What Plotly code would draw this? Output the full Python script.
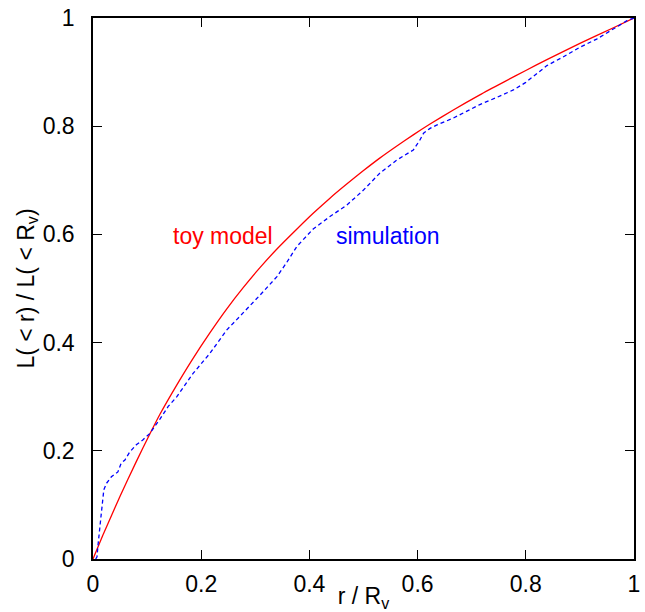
import plotly.graph_objects as go

# toy model curve
toy_x = [0.0, 0.02, 0.05, 0.08, 0.105, 0.124, 0.155, 0.185, 0.216, 0.247, 0.278, 0.309,
         0.340, 0.377, 0.407, 0.438, 0.469, 0.500, 0.530, 0.561, 0.592, 0.623, 0.666,
         0.715, 0.760, 0.800, 0.839, 0.900, 0.962, 1.0]
toy_y = [0.0, 0.048, 0.116, 0.180, 0.231, 0.268, 0.322, 0.371, 0.418, 0.462, 0.502, 0.539,
         0.573, 0.610, 0.639, 0.667, 0.693, 0.718, 0.741, 0.763, 0.784, 0.804, 0.830,
         0.858, 0.882, 0.903, 0.923, 0.953, 0.982, 1.0]

# simulation curve
sim_x = [0.005, 0.0074, 0.009, 0.012, 0.015, 0.018, 0.020, 0.025, 0.034, 0.046, 0.052,
         0.059, 0.068, 0.080, 0.092, 0.105, 0.117, 0.124, 0.139, 0.155, 0.185, 0.216,
         0.247, 0.278, 0.309, 0.340, 0.358, 0.377, 0.407, 0.438, 0.469, 0.500, 0.530,
         0.561, 0.592, 0.604, 0.611, 0.623, 0.635, 0.666, 0.715, 0.746, 0.777, 0.800,
         0.820, 0.839, 0.869, 0.900, 0.931, 0.962, 0.987, 1.0]
sim_y = [0.0, 0.004, 0.023, 0.060, 0.081, 0.109, 0.128, 0.140, 0.152, 0.161, 0.177,
         0.183, 0.198, 0.211, 0.220, 0.232, 0.248, 0.259, 0.282, 0.300, 0.343, 0.380,
         0.423, 0.455, 0.488, 0.522, 0.548, 0.578, 0.610, 0.633, 0.654, 0.682, 0.713,
         0.737, 0.756, 0.774, 0.787, 0.796, 0.802, 0.815, 0.840, 0.853, 0.867, 0.881,
         0.896, 0.912, 0.928, 0.946, 0.961, 0.980, 0.995, 1.0]

tick_vals = [0, 0.2, 0.4, 0.6, 0.8, 1]
tick_text = ["0", "0.2", "0.4", "0.6", "0.8", "1"]

FONT = "Liberation Sans, Arial, Helvetica, sans-serif"
FS = 23

fig = go.Figure()
fig.add_trace(go.Scatter(x=toy_x, y=toy_y, mode="lines", name="toy model",
                         line=dict(color="#ff0000", width=1.3, shape="spline", smoothing=0.6)))
fig.add_trace(go.Scatter(x=sim_x, y=sim_y, mode="lines", name="simulation",
                         line=dict(color="#0000ff", width=1.3, dash="4px,3px")))

fig.add_annotation(x=0.24, y=0.597, text="toy model", showarrow=False,
                   font=dict(color="#ff0000", size=FS, family=FONT))
fig.add_annotation(x=0.545, y=0.597, text="simulation", showarrow=False,
                   font=dict(color="#0000ff", size=FS, family=FONT))

axis_common = dict(
    range=[0, 1], tickvals=tick_vals, ticktext=tick_text,
    ticks="inside", ticklen=9, tickwidth=1.2, tickcolor="black",
    showline=True, linecolor="black", linewidth=1.5, mirror="allticks",
    showgrid=False, zeroline=False, automargin=False,
    tickfont=dict(size=FS, family=FONT, color="black"),
)

fig.update_layout(
    width=645, height=612,
    margin=dict(l=93, r=11, t=18, b=53),
    plot_bgcolor="white", paper_bgcolor="white",
    showlegend=False,
    font=dict(family=FONT, color="black"),
    xaxis=dict(**axis_common, ticklabelstandoff=4,
               title=dict(text="r / R<sub>v</sub>", font=dict(size=FS, family=FONT), standoff=14)),
    yaxis=dict(**axis_common, ticklabelstandoff=12,
               title=dict(text="L( < r) / L( < R<sub>v</sub>)", font=dict(size=FS, family=FONT), standoff=2)),
)

fig.write_html("out.html")
